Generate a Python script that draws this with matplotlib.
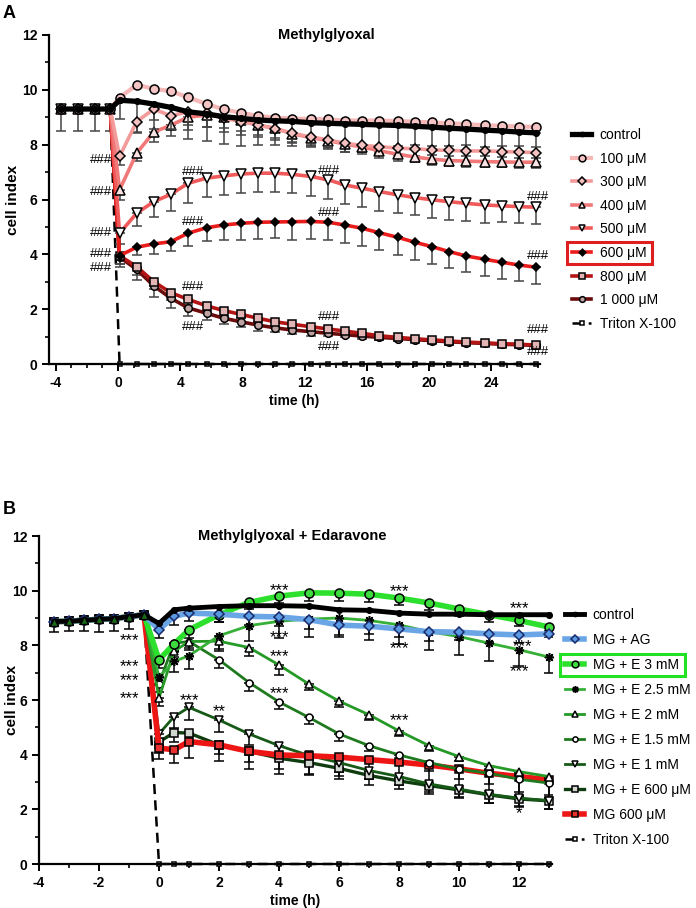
import matplotlib.pyplot as plt
import matplotlib.patches as mpatches
from matplotlib.ticker import MultipleLocator

plt.rcParams['font.family'] = ['Liberation Sans', 'DejaVu Sans']
plt.rcParams['axes.linewidth'] = 1.6
plt.rcParams['axes.unicode_minus'] = False

W, H = 696, 908

# ---------------- panel A : Methylglyoxal ----------------
a_time_pre = [-3.7, -2.6, -1.5, -0.5]
a_time_post = [0.1, 1.2, 2.3, 3.4, 4.5, 5.7, 6.8, 7.9, 9.0, 10.1, 11.2, 12.4, 13.5,
               14.6, 15.7, 16.8, 18.0, 19.1, 20.2, 21.3, 22.4, 23.6, 24.7, 25.8, 26.9]
a_pre = [9.3, 9.3, 9.3, 9.3]
a_pre_err = [0.8, 0.8, 0.8, 0.8]

a_control = [9.62, 9.58, 9.48, 9.36, 9.2, 9.12, 9.02, 8.96, 8.9, 8.87, 8.85, 8.8, 8.78,
             8.76, 8.74, 8.72, 8.7, 8.67, 8.64, 8.6, 8.57, 8.53, 8.5, 8.46, 8.43]
a_100 = [9.72, 10.18, 10.04, 9.95, 9.73, 9.48, 9.29, 9.16, 9.05, 8.99, 8.95, 8.94, 8.92,
         8.88, 8.88, 8.88, 8.86, 8.84, 8.81, 8.78, 8.75, 8.71, 8.69, 8.66, 8.65]
a_300 = [7.57, 8.84, 9.3, 9.05, 9.2, 9.15, 8.97, 8.84, 8.72, 8.58, 8.42, 8.28, 8.18,
         8.05, 7.97, 7.93, 7.87, 7.85, 7.81, 7.79, 7.77, 7.77, 7.75, 7.73, 7.71]
a_400 = [6.35, 7.69, 8.46, 8.71, 9.0, 9.08, 9.0, 8.9, 8.72, 8.6, 8.4, 8.26, 8.15,
         8.02, 7.92, 7.78, 7.65, 7.55, 7.47, 7.42, 7.4, 7.38, 7.37, 7.36, 7.36]
a_500 = [4.77, 5.5, 5.92, 6.19, 6.59, 6.78, 6.86, 6.93, 6.96, 6.96, 6.92, 6.84, 6.72,
         6.53, 6.41, 6.29, 6.17, 6.07, 5.99, 5.92, 5.86, 5.8, 5.77, 5.74, 5.72]
a_600 = [3.95, 4.26, 4.38, 4.46, 4.77, 4.97, 5.07, 5.13, 5.17, 5.18, 5.19, 5.2, 5.17,
         5.07, 4.95, 4.79, 4.62, 4.44, 4.28, 4.1, 3.94, 3.82, 3.71, 3.61, 3.53]
a_800 = [3.95, 3.55, 3.0, 2.6, 2.36, 2.12, 1.95, 1.81, 1.67, 1.54, 1.45, 1.36, 1.28,
         1.2, 1.12, 1.03, 0.97, 0.92, 0.88, 0.84, 0.8, 0.77, 0.74, 0.72, 0.69]
a_1000 = [3.9, 3.45, 2.85, 2.4, 2.05, 1.85, 1.67, 1.54, 1.42, 1.32, 1.24, 1.18, 1.12,
          1.07, 1.02, 0.97, 0.93, 0.89, 0.85, 0.81, 0.78, 0.75, 0.72, 0.7, 0.68]
a_triton = [0, 0, 0, 0, 0, 0, 0, 0, 0, 0, 0, 0, 0, 0, 0, 0, 0, 0, 0, 0, 0, 0, 0, 0, 0]

a_control_err = [0.7, 1.1, 0.9, 0.8, 1.0, 1.0, 1.0, 1.0, 0.9, 0.9, 0.9, 0.9, 0.85,
                 0.8, 0.8, 0.8, 0.75, 0.7, 0.7, 0.65, 0.6, 0.6, 0.55, 0.5, 0.5]
a_300_err = [0.3, 0.4, 0.4, 0.35, 0.5, 0.5, 0.5, 0.5, 0.45, 0.4, 0.35, 0.3, 0.3,
             0.3, 0.25, 0.25, 0.25, 0.25, 0.2, 0.2, 0.2, 0.2, 0.2, 0.2, 0.2]
a_400_err = [0.35, 0.3, 0.35, 0.4, 0.45, 0.45, 0.4, 0.4, 0.35, 0.35, 0.3, 0.3, 0.3,
             0.3, 0.25, 0.25, 0.25, 0.2, 0.2, 0.2, 0.2, 0.2, 0.2, 0.2, 0.2]
a_500_err = [0.4, 0.45, 0.55, 0.6, 0.7, 0.7, 0.7, 0.7, 0.7, 0.7, 0.7, 0.7, 0.7,
             0.7, 0.7, 0.7, 0.65, 0.65, 0.65, 0.65, 0.65, 0.65, 0.6, 0.6, 0.6]
a_600_err = [0.3, 0.3, 0.35, 0.35, 0.45, 0.5, 0.55, 0.6, 0.6, 0.6, 0.65, 0.65, 0.65,
             0.65, 0.65, 0.65, 0.65, 0.65, 0.65, 0.6, 0.6, 0.6, 0.6, 0.6, 0.6]
a_800_err = [0.3, 0.3, 0.25, 0.25, 0.2, 0.2, 0.2, 0.15, 0.15, 0.15, 0.15, 0.1, 0.1,
             0.1, 0.1, 0.1, 0.1, 0.1, 0.1, 0.1, 0.1, 0.1, 0.1, 0.1, 0.1]
a_1000_err = [0.35, 0.4, 0.4, 0.35, 0.3, 0.25, 0.2, 0.2, 0.2, 0.15, 0.15, 0.15, 0.1,
              0.1, 0.1, 0.1, 0.1, 0.1, 0.1, 0.1, 0.1, 0.1, 0.1, 0.1, 0.1]

a_hash_x = [-1.1, -1.1, -1.1, -1.1, -1.1, 4.8, 4.8, 4.8, 4.8,
            13.6, 13.6, 13.6, 13.6, 27.0, 27.0, 27.0, 27.0]
a_hash_y = [7.45, 6.29, 4.77, 4.02, 3.5, 6.99, 5.19, 2.82, 1.36,
            7.05, 5.5, 1.73, 0.63, 6.08, 3.94, 1.24, 0.45]

# ---------------- panel B : Methylglyoxal + Edaravone ----------------
b_time_pre = [-3.5, -3.0, -2.5, -2.0, -1.5, -1.0, -0.5]
b_time_post = [0, 0.5, 1, 2, 3, 4, 5, 6, 7, 8, 9, 10, 11, 12, 13]
b_pre = [8.87, 8.88, 8.92, 8.95, 8.98, 9.05, 9.12]
b_pre_err = [0.4, 0.35, 0.4, 0.45, 0.45, 0.45, 0.1]

b_control = [8.8, 9.3, 9.36, 9.42, 9.45, 9.45, 9.43, 9.3, 9.28, 9.18, 9.14, 9.14, 9.12, 9.12, 9.12]
b_ag = [8.57, 9.06, 9.18, 9.14, 9.06, 9.04, 8.94, 8.74, 8.7, 8.6, 8.5, 8.48, 8.42, 8.38, 8.42]
b_e3 = [7.47, 8.05, 8.57, 9.12, 9.57, 9.8, 9.92, 9.91, 9.87, 9.73, 9.55, 9.33, 9.12, 8.91, 8.67]
b_e25 = [6.84, 7.41, 7.62, 8.35, 8.72, 8.88, 8.96, 9.0, 8.91, 8.75, 8.5, 8.32, 8.08, 7.84, 7.57]
b_e2 = [6.07, 7.78, 8.14, 8.15, 7.92, 7.28, 6.58, 5.96, 5.46, 4.87, 4.33, 3.93, 3.6, 3.38, 3.2]
b_e15 = [6.6, 8.08, 8.14, 7.47, 6.64, 5.93, 5.36, 4.76, 4.33, 3.99, 3.71, 3.47, 3.32, 3.1, 2.96]
b_e1 = [4.76, 5.39, 5.73, 5.27, 4.76, 4.33, 3.97, 3.71, 3.42, 3.2, 2.93, 2.74, 2.55, 2.41, 2.32]
b_e600 = [4.46, 4.81, 4.79, 4.36, 4.12, 3.87, 3.71, 3.5, 3.24, 3.04, 2.87, 2.71, 2.53, 2.38, 2.31]
b_mg600 = [4.24, 4.18, 4.48, 4.36, 4.12, 3.99, 3.96, 3.91, 3.82, 3.73, 3.62, 3.48, 3.32, 3.2, 3.08]
b_triton = [0, 0, 0, 0, 0, 0, 0, 0, 0, 0, 0, 0, 0, 0, 0]

b_ag_err = [0.3, 0.3, 0.3, 0.3, 0.3, 0.35, 0.35, 0.35, 0.3, 0.3, 0.35, 0.3, 0.3, 0.3, 0.1]
b_e3_err = [0.3, 0.3, 0.3, 0.25, 0.25, 0.25, 0.3, 0.3, 0.3, 0.25, 0.25, 0.25, 0.25, 0.2, 0.15]
b_e25_err = [0.3, 0.4, 0.47, 0.5, 0.55, 0.6, 0.65, 0.7, 0.7, 0.7, 0.67, 0.67, 0.65, 0.6, 0.6]
b_e2_err = [0.3, 0.2, 0.25, 0.35, 0.3, 0.35, 0.2, 0.2, 0.2, 0.2, 0.2, 0.15, 0.15, 0.15, 0.15]
b_e15_err = [0.3, 0.3, 0.3, 0.3, 0.3, 0.25, 0.25, 0.25, 0.2, 0.25, 0.3, 0.35, 0.4, 0.45, 0.45]
b_e1_err = [0.4, 0.4, 0.45, 0.45, 0.4, 0.4, 0.35, 0.35, 0.3, 0.3, 0.3, 0.3, 0.3, 0.3, 0.3]
b_e600_err = [0.4, 0.35, 0.35, 0.35, 0.4, 0.4, 0.4, 0.4, 0.35, 0.3, 0.3, 0.3, 0.3, 0.3, 0.3]
b_mg600_err = [0.4, 0.5, 0.6, 0.6, 0.65, 0.7, 0.7, 0.7, 0.7, 0.7, 0.7, 0.75, 0.75, 0.7, 0.65]

b_star_text = ["***", "***", "***", "***", "***", "**", "***", "***", "***", "***",
               "***", "***", "***", "***", "***", "***", "*"]
b_star_x = [-1.0, -1.0, -1.0, -1.0, 1.0, 2.0, 4.0, 4.0, 4.0, 4.0,
            8.0, 8.0, 8.0, 12.0, 12.1, 12.0, 12.0]
b_star_y = [8.33, 7.37, 6.86, 6.19, 6.1, 5.7, 10.16, 8.43, 7.71, 6.37,
            10.1, 8.02, 5.37, 9.49, 8.08, 7.17, 1.98]


def px_axes(l, r, t, b):
    return fig.add_axes([l / W, 1 - b / H, (r - l) / W, (b - t) / H])


def series(ax, tpre, pre, tpost, post, err, label, color, lw, marker, mfc, ms,
           ecolor="#444444", z=3, ls="-", mec="black"):
    t = tpre + tpost
    y = pre + post
    if err is not None:
        ax.errorbar(tpost, post, yerr=[err, [0] * len(err)], fmt="none", ecolor=ecolor,
                    elinewidth=1.1, capsize=3.5, capthick=1.1, zorder=z - 0.5)
    line, = ax.plot(t, y, color=color, lw=lw, ls=ls, marker=marker, mfc=mfc, mec=mec,
                    mew=1.1, ms=ms, label=label, zorder=z, clip_on=False)
    return line


def style_axes(ax, xmaj, xmin):
    for s in ["top", "right"]:
        ax.spines[s].set_visible(False)
    ax.set_ylim(0, 12)
    ax.yaxis.set_major_locator(MultipleLocator(2))
    ax.yaxis.set_minor_locator(MultipleLocator(1))
    ax.xaxis.set_major_locator(MultipleLocator(xmaj))
    ax.xaxis.set_minor_locator(MultipleLocator(xmin))
    ax.tick_params(which="major", direction="out", length=5, width=1.4, labelsize=10)
    ax.tick_params(which="minor", direction="out", length=3, width=1.2)
    for lab in ax.get_xticklabels() + ax.get_yticklabels():
        lab.set_fontweight("bold")
    ax.set_xlabel("time (h)", fontsize=10, fontweight="bold", labelpad=3)
    ax.set_ylabel("cell index", fontsize=11, fontweight="bold")


fig = plt.figure(figsize=(W / 100, H / 100), dpi=100)

# ---------------- A ----------------
axA = px_axes(49, 540, 35, 364)
axA.set_xlim(-4.44, 27.15)
style_axes(axA, 4, 1)
axA.yaxis.set_label_coords((20 - 49) / (540 - 49), 0.5)

hA = {}
hA["tri"] = series(axA, a_time_pre, a_pre, a_time_post, a_triton, None, "Triton X-100",
                   "black", 1.8, "s", "white", 3, z=2, ls=(0, (4, 2.5)))
hA["1000"] = series(axA, a_time_pre, a_pre, a_time_post, a_1000, a_1000_err, "1 000 μM",
                    "#6b0c0c", 2.6, "o", "#bfa3a3", 5.5, z=3)
hA["800"] = series(axA, a_time_pre, a_pre, a_time_post, a_800, a_800_err, "800 μM",
                   "#b31414", 2.6, "s", "#e3b4b4", 5.5, z=3.2)
hA["600"] = series(axA, a_time_pre, a_pre, a_time_post, a_600, a_600_err, "600 μM",
                   "#ea1c1c", 2.6, "D", "black", 4.5, z=3.4)
hA["500"] = series(axA, a_time_pre, a_pre, a_time_post, a_500, a_500_err, "500 μM",
                   "#f05a5a", 2.6, "v", "white", 6.5, z=3.6)
hA["400"] = series(axA, a_time_pre, a_pre, a_time_post, a_400, a_400_err, "400 μM",
                   "#f17878", 2.6, "^", "#fbe3e3", 6.5, z=3.8)
hA["300"] = series(axA, a_time_pre, a_pre, a_time_post, a_300, a_300_err, "300 μM",
                   "#f39a9a", 2.6, "D", "#f5c0c0", 5.5, z=4)
hA["100"] = series(axA, a_time_pre, a_pre, a_time_post, a_100, None, "100 μM",
                   "#f6b7b7", 3.0, "o", "#f5c4c4", 6.5, z=4.2)
hA["ctrl"] = series(axA, a_time_pre, a_pre, a_time_post, a_control, a_control_err, "control",
                    "black", 3.8, "o", "black", 4, z=4.4)
axA.errorbar(a_time_pre, a_pre, yerr=[a_pre_err, [0, 0, 0, 0]], fmt="none", ecolor="#444444",
             elinewidth=1.1, capsize=3.5, capthick=1.1, zorder=2)

for x, y in zip(a_hash_x, a_hash_y):
    axA.text(x, y, "###", ha="center", va="center", fontsize=9.5, zorder=6)

axA.text(0.565, 1.0, "Methylglyoxal", transform=axA.transAxes, ha="center", va="center",
         fontsize=10.5, fontweight="bold")

orderA = ["ctrl", "100", "300", "400", "500", "600", "800", "1000", "tri"]
legA = fig.legend([hA[k] for k in orderA], [hA[k].get_label() for k in orderA],
                  loc="upper left", bbox_to_anchor=(572 / W, 1 - 128 / H), frameon=False,
                  fontsize=10, handlelength=1.4, handletextpad=0.6, labelspacing=0.69,
                  borderpad=0, borderaxespad=0, markerscale=0.75)

# ---------------- B ----------------
axB = px_axes(39, 552, 536, 864)
axB.set_xlim(-4, 13.1)
style_axes(axB, 2, 1)
axB.yaxis.set_label_coords((19 - 39) / (552 - 39), 0.5)

hB = {}
hB["tri"] = series(axB, b_time_pre, b_pre, b_time_post, b_triton, None, "Triton X-100",
                   "black", 1.8, "s", "white", 3, z=2, ls=(0, (4, 2.5)))
hB["e600"] = series(axB, b_time_pre, b_pre, b_time_post, b_e600, b_e600_err, "MG + E 600 μM",
                    "#0f3d0f", 2.4, "s", "#d0d8d0", 5.5, z=3, ecolor="black")
hB["e1"] = series(axB, b_time_pre, b_pre, b_time_post, b_e1, b_e1_err, "MG + E 1 mM",
                  "#175a17", 2.0, "v", "white", 6, z=3.1, ecolor="black")
hB["mg600"] = series(axB, b_time_pre, b_pre, b_time_post, b_mg600, b_mg600_err, "MG 600 μM",
                     "#ee1515", 4.0, "s", "#e83030", 5.5, z=3.2, ecolor="black")
hB["e15"] = series(axB, b_time_pre, b_pre, b_time_post, b_e15, b_e15_err, "MG + E 1.5 mM",
                   "#1f7a1f", 2.0, "o", "white", 5, z=3.3, ecolor="black")
hB["e2"] = series(axB, b_time_pre, b_pre, b_time_post, b_e2, b_e2_err, "MG + E 2 mM",
                  "#269a26", 2.0, "^", "white", 6, z=3.4, ecolor="black")
hB["e25"] = series(axB, b_time_pre, b_pre, b_time_post, b_e25, b_e25_err, "MG + E 2.5 mM",
                   "#36b036", 2.0, (8, 2, 0), "black", 6.5, z=3.5, ecolor="black")
hB["e3"] = series(axB, b_time_pre, b_pre, b_time_post, b_e3, b_e3_err, "MG + E 3 mM",
                  "#2ee02e", 4.0, "o", "#3edc3e", 6.5, z=3.6, ecolor="black")
hB["ag"] = series(axB, b_time_pre, b_pre, b_time_post, b_ag, b_ag_err, "MG + AG",
                  "#6aa6e6", 4.0, "D", "#5a9ae2", 5.5, z=3.7, ecolor="black", mec="#1a2a6a")
hB["ctrl"] = series(axB, b_time_pre, b_pre, b_time_post, b_control, None, "control",
                    "black", 3.5, "o", "black", 4, z=3.8)
axB.errorbar(b_time_pre, b_pre, yerr=[b_pre_err, [0, 0, 0, 0, 0, 0, 0]], fmt="none",
             ecolor="black", elinewidth=1.1, capsize=3.5, capthick=1.1, zorder=2)
axB.plot(b_time_pre, b_pre, ls="none", marker="^", mfc="#1a6a1a", mec="black", ms=6, zorder=4)

for s, x, y in zip(b_star_text, b_star_x, b_star_y):
    axB.annotate(s, (x, y), xytext=(0, -6), textcoords="offset points", ha="center",
                 va="baseline", fontsize=12, zorder=6)

axB.text((292 - 39) / (552 - 39), 1.0, "Methylglyoxal + Edaravone", transform=axB.transAxes,
         ha="center", va="center", fontsize=10.5, fontweight="bold")

orderB = ["ctrl", "ag", "e3", "e25", "e2", "e15", "e1", "e600", "mg600", "tri"]
legB = fig.legend([hB[k] for k in orderB], [hB[k].get_label() for k in orderB],
                  loc="upper left", bbox_to_anchor=(565 / W, 1 - 608 / H), frameon=False,
                  fontsize=10, handlelength=1.4, handletextpad=0.6, labelspacing=0.79,
                  borderpad=0, borderaxespad=0, markerscale=0.75)

# panel letters
fig.text(3 / W, 1 - 5 / H, "A", fontsize=13, fontweight="bold", va="top", ha="left")
fig.text(3 / W, 1 - 501 / H, "B", fontsize=13, fontweight="bold", va="top", ha="left")

# highlight boxes around one legend entry in each panel
fig.canvas.draw()
rend = fig.canvas.get_renderer()
inv = fig.transFigure.inverted()
for leg, idx, col in [(legA, 5, "#dd1f1f"), (legB, 2, "#22e022")]:
    bb = leg.get_texts()[idx].get_window_extent(rend)
    x0, y0 = inv.transform((bb.x0 - 33, bb.y0 - 4))
    x1, y1 = inv.transform((bb.x1 + 6, bb.y1 + 4))
    fig.add_artist(mpatches.Rectangle((x0, y0), x1 - x0, y1 - y0, fill=False,
                                      edgecolor=col, lw=2.2, transform=fig.transFigure))

fig.savefig("out.png", dpi=100)
